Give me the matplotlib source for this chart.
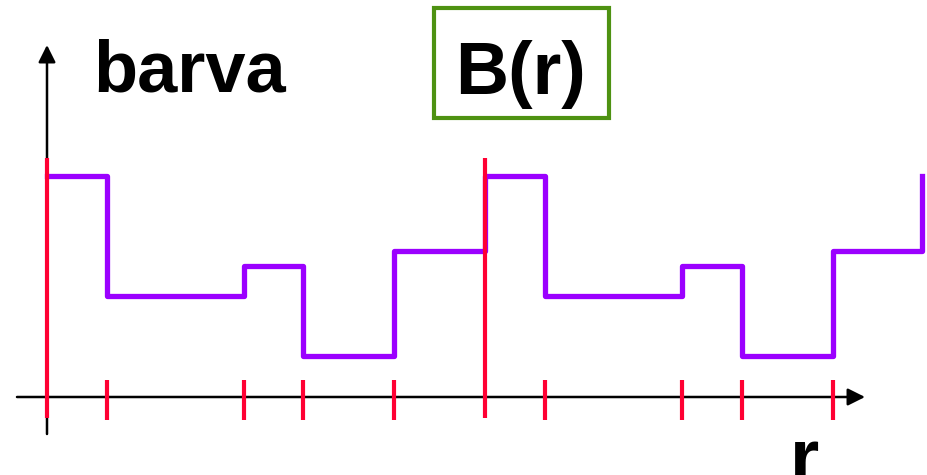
import matplotlib.pyplot as plt
from matplotlib.patches import Rectangle

# step function B(r): segment edges along r and colour level per segment
r_edges = [47, 107, 244, 303, 394, 485, 545, 682, 742, 833, 922]
barva = [221, 101, 131, 41, 146, 221, 101, 131, 41, 146]
barva_end = 221
# boundaries marked in red (long lines start a period)
long_marks = [47, 485]
short_marks = [107, 244, 303, 394, 545, 682, 742, 833]

purple = '#9b00ff'
red = '#ff0033'
green = '#4e9212'

fig = plt.figure(figsize=(9.28, 4.75), dpi=100)
ax = fig.add_axes([0, 0, 1, 1])
ax.set_xlim(0, 928)
ax.set_ylim(-78, 397)
ax.axis('off')

# axes with arrow heads
ax.annotate('', xy=(865, 0), xytext=(17, 0),
            arrowprops=dict(arrowstyle='-|>', lw=1.8, color='black',
                            mutation_scale=26, shrinkA=0, shrinkB=0), zorder=1)
ax.annotate('', xy=(47, 352), xytext=(47, -37),
            arrowprops=dict(arrowstyle='-|>', lw=1.8, color='black',
                            mutation_scale=26, shrinkA=0, shrinkB=0), zorder=1)

# the colour profile
ax.step(r_edges, barva + [barva_end], where='post', color=purple, lw=3.8,
        solid_joinstyle='round', zorder=2)

# red boundary marks
ax.vlines(long_marks, -21, 239, color=red, lw=3.0, zorder=3)
ax.vlines(short_marks, -23, 17, color=red, lw=3.0, zorder=3)

# labels
ax.text(93, 305, 'barva', fontsize=52, fontweight='bold',
        family='Liberation Sans', va='baseline', ha='left')
ax.add_patch(Rectangle((434, 279), 175, 110, fill=False, ec=green, lw=3.0))
ax.text(521, 303, 'B(r)', fontsize=53, fontweight='bold',
        family='Liberation Sans', va='baseline', ha='center')
ax.text(805, -84, 'r', fontsize=54, fontweight='bold',
        family='Liberation Sans', va='baseline', ha='center')

plt.savefig('out.png', dpi=100)
